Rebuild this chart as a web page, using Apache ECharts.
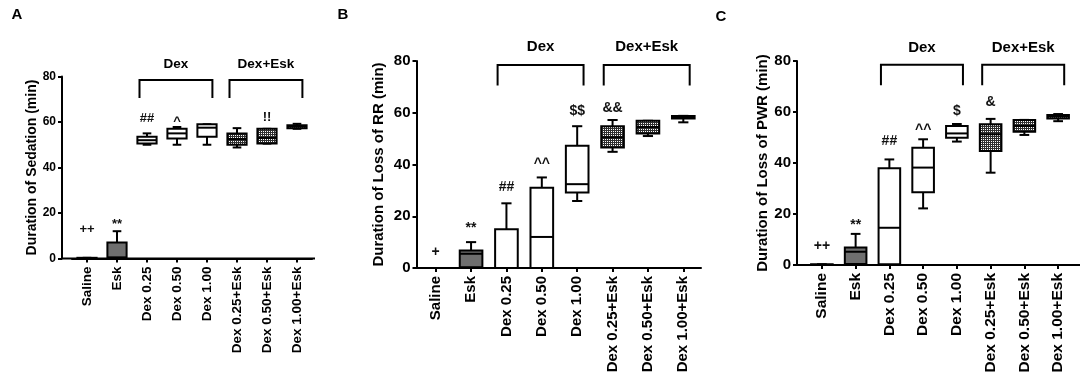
<!DOCTYPE html>
<html><head><meta charset="utf-8">
<script src="https://cdn.jsdelivr.net/npm/echarts@6/dist/echarts.min.js"></script>
<style>html,body{margin:0;padding:0;background:#fff}#c{width:1084px;height:381px}</style>
</head><body><div id="c"></div>
<script>
const categories = ['Saline','Esk','Dex 0.25','Dex 0.50','Dex 1.00','Dex 0.25+Esk','Dex 0.50+Esk','Dex 1.00+Esk'];
const yTicks = [0, 20, 40, 60, 80];
const panelLetters = ['A','B','C'];
const yTitles = ['Duration of Sedation (min)','Duration of Loss of RR (min)','Duration of Loss of PWR (min)'];
// each row: [min, q1, median, q3, max]
const sedation = [
  [0, 0, 0, 0.3, 0.3],
  [0, 0, 0.5, 7, 12],
  [50, 50.5, 52, 53.5, 55],
  [50, 52.7, 55, 57, 57.8],
  [50, 53.5, 57.5, 59, 59],
  [48.8, 50, 52.5, 55, 57.3],
  [50.5, 50.5, 53, 57, 57],
  [57, 57.3, 58, 58.6, 59.2]
];
const lossRR = [
  [0, 0, 0, 0, 0],
  [0, 0.3, 5.5, 6.8, 10],
  [0, 0, 0, 15, 25],
  [0, 0, 12, 31, 35],
  [25.9, 29.2, 32.4, 47.2, 54.8],
  [44.9, 46.6, 50.5, 54.8, 57.2],
  [51, 52, 54.5, 56.9, 56.9],
  [56.3, 57.8, 58.2, 58.7, 58.8]
];
const lossPWR = [
  [0, 0, 0, 0.3, 0.3],
  [0, 0.4, 5.2, 6.9, 12.2],
  [0, 0.3, 14.6, 37.9, 41.4],
  [22.2, 28.5, 38.2, 46, 49.3],
  [48.4, 49.9, 51.6, 54.5, 55.3],
  [36.2, 44.7, 51.3, 55.2, 57.3],
  [51, 52.3, 54.5, 56.9, 56.9],
  [56.4, 57.5, 58.2, 58.8, 59.2]
];
// significance marks: [text, category index, y value]
const sedationMarks = [['++',0,12.6],['**',1,15],['##',2,61.5],['^',3,60.3],['!!',6,62]];
const rrMarks = [['+',0,6.2],['**',1,15.5],['##',2,31.3],['^^',3,40],['$$',4,60.6],['&&',5,61.9]];
const pwrMarks = [['++',0,7.2],['**',1,15.6],['##',2,48.6],['^^',3,53],['$',4,60.4],['&',5,64]];
const groups = [['Dex',2,4],['Dex+Esk',5,7]];

const FONT = '"Liberation Sans", Arial, sans-serif';
// layout per panel
const L = [
  {left:72, top:76.5, width:240, height:182, off:10, end:315, tick:12, xl:13.5, name:14, gap:22, ann:13, grp:13.5, letter:[17,15]},
  {left:418, top:61, width:283, height:207, off:1.5, end:700, tick:15, xl:15, name:15, gap:30, ann:14, grp:15, letter:[343,15]},
  {left:805, top:61, width:270, height:204, off:8, end:1080, tick:15, xl:15.5, name:15, gap:27, ann:14, grp:15, letter:[721,17]}
];

const pc = document.createElement('canvas');
pc.width = 2; pc.height = 2;
const pctx = pc.getContext('2d');
pctx.fillStyle = '#303030'; pctx.fillRect(0,0,2,2);
pctx.fillStyle = '#ffffff'; pctx.fillRect(1,1,1,1);
const pattern = {image: pc, repeat: 'repeat'};

function boxSeries(gi, data) {
  return {
    type:'custom', xAxisIndex:gi, yAxisIndex:gi, clip:false, z:3,
    data: data.map((d,i)=>[i].concat(d)),
    encode:{x:0, y:[1,2,3,4,5]},
    renderItem:(params, api)=>{
      const i = api.value(0);
      const band = api.size([1,0])[0];
      const bw = band*0.64, cap = bw*0.45;
      const cx = api.coord([i,0])[0];
      const Y = v=>api.coord([i,v])[1];
      const mn=Y(api.value(1)), q1=Y(api.value(2)), md=Y(api.value(3)), q3=Y(api.value(4)), mx=Y(api.value(5));
      const fill = i===1 ? '#6f6f6f' : (i>=5 ? pattern : '#fff');
      const ls = {stroke:'#000', lineWidth:2};
      return {type:'group', children:[
        {type:'line', shape:{x1:cx,y1:q3,x2:cx,y2:mx}, style:ls},
        {type:'line', shape:{x1:cx-cap/2,y1:mx,x2:cx+cap/2,y2:mx}, style:ls},
        {type:'line', shape:{x1:cx,y1:q1,x2:cx,y2:mn}, style:ls},
        {type:'line', shape:{x1:cx-cap/2,y1:mn,x2:cx+cap/2,y2:mn}, style:ls},
        {type:'rect', shape:{x:cx-bw/2,y:q3,width:bw,height:q1-q3}, style:{fill:fill, stroke:'#000', lineWidth:2}},
        {type:'line', shape:{x1:cx-bw/2,y1:md,x2:cx+bw/2,y2:md}, style:ls}
      ]};
    }
  };
}
function markSeries(gi, marks) {
  return {
    type:'custom', xAxisIndex:gi, yAxisIndex:gi, clip:false, z:4,
    data: marks.map(m=>[m[1], m[2], m[0]]),
    encode:{x:0, y:1},
    renderItem:(params, api)=>{
      const p = api.coord([api.value(0), api.value(1)]);
      return {type:'text', x:p[0], y:p[1], style:{text: marks[params.dataIndex][0], fill:'#111',
        font:'bold '+L[gi].ann+'px '+FONT, align:'center', verticalAlign:'middle', textAlign:'center', textVerticalAlign:'middle'}};
    }
  };
}
function groupSeries(gi) {
  return {
    type:'custom', xAxisIndex:gi, yAxisIndex:gi, clip:false, z:4,
    data: groups.map(g=>[g[1], g[2]]),
    encode:{x:[0,1]},
    renderItem:(params, api)=>{
      const a = api.value(0), b = api.value(1);
      const band = api.size([1,0])[0];
      const x1 = api.coord([a,0])[0] - band*0.25, x2 = api.coord([b,0])[0] + band*0.18;
      const yLo = api.coord([a,70.5])[1], yHi = api.coord([a,78.5])[1], yT = api.coord([a,85.3])[1];
      return {type:'group', children:[
        {type:'polyline', shape:{points:[[x1,yLo],[x1,yHi],[x2,yHi],[x2,yLo]]}, style:{stroke:'#000', lineWidth:2, fill:null}},
        {type:'text', x:(x1+x2)/2, y:yT, style:{text: groups[params.dataIndex][0], fill:'#000',
          font:'bold '+L[gi].grp+'px '+FONT, align:'center', verticalAlign:'middle', textAlign:'center', textVerticalAlign:'middle'}}
      ]};
    }
  };
}

const datasets = [sedation, lossRR, lossPWR];
const markSets = [sedationMarks, rrMarks, pwrMarks];
const grid=[], xAxis=[], yAxis=[], series=[], graphic=[];
L.forEach((l,gi)=>{
  grid.push({left:l.left, top:l.top, width:l.width, height:l.height});
  xAxis.push({type:'category', gridIndex:gi, data:categories, boundaryGap:true,
    axisLine:{show:true, lineStyle:{color:'#000', width:2}},
    axisTick:{show:true, alignWithLabel:true, length:4, lineStyle:{color:'#000', width:2}},
    axisLabel:{interval:0, rotate:90, margin:8, color:'#000', fontWeight:'bold', fontSize:l.xl, fontFamily:FONT},
    splitLine:{show:false}});
  yAxis.push({type:'value', gridIndex:gi, min:yTicks[0], max:yTicks[yTicks.length-1], interval:yTicks[1]-yTicks[0], offset:l.off,
    name:yTitles[gi], nameLocation:'middle', nameGap:l.gap,
    nameTextStyle:{color:'#000', fontWeight:'bold', fontSize:l.name, fontFamily:FONT},
    axisLine:{show:true, lineStyle:{color:'#000', width:2}},
    axisTick:{show:true, length:4, lineStyle:{color:'#000', width:2}},
    axisLabel:{color:'#000', fontWeight:'bold', fontSize:l.tick, fontFamily:FONT, margin:6},
    splitLine:{show:false}});
  series.push(boxSeries(gi, datasets[gi]));
  series.push(markSeries(gi, markSets[gi]));
  series.push(groupSeries(gi));
  const yb = l.top + l.height;
  graphic.push({type:'line', shape:{x1:l.left-l.off-1, y1:yb, x2:l.end, y2:yb}, style:{stroke:'#000', lineWidth:2}, z:10});
  graphic.push({type:'text', x:l.letter[0], y:l.letter[1], style:{text:panelLetters[gi], fill:'#000', font:'bold 15px '+FONT, align:'center', verticalAlign:'middle', textAlign:'center', textVerticalAlign:'middle'}});
});

const chart = echarts.init(document.getElementById('c'), null, {renderer:'canvas'});
chart.setOption({animation:false, backgroundColor:'#fff', grid, xAxis, yAxis, series, graphic});
</script></body></html>
